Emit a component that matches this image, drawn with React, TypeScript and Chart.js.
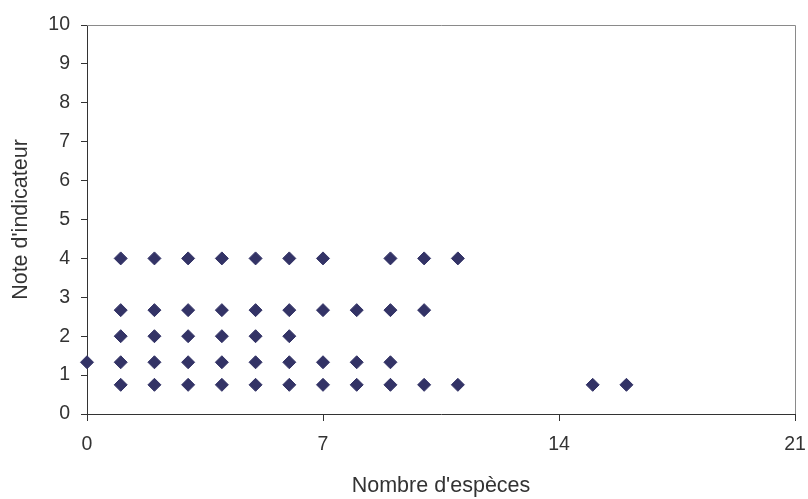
import React, { useEffect, useRef } from "react";
import { Chart, registerables } from "chart.js";

Chart.register(...registerables);

// Nombre d'espèces (x) et note d'indicateur (y)
const speciesCounts: number[] = [
  0,
  1, 1, 1, 1, 1,
  2, 2, 2, 2, 2,
  3, 3, 3, 3, 3,
  4, 4, 4, 4, 4,
  5, 5, 5, 5, 5,
  6, 6, 6, 6, 6,
  7, 7, 7, 7,
  8, 8, 8,
  9, 9, 9, 9,
  10, 10, 10,
  11, 11,
  15,
  16,
];
const indicatorScores: number[] = [
  1.33,
  4, 2.67, 2, 1.33, 0.75,
  4, 2.67, 2, 1.33, 0.75,
  4, 2.67, 2, 1.33, 0.75,
  4, 2.67, 2, 1.33, 0.75,
  4, 2.67, 2, 1.33, 0.75,
  4, 2.67, 2, 1.33, 0.75,
  4, 2.67, 1.33, 0.75,
  2.67, 1.33, 0.75,
  4, 2.67, 1.33, 0.75,
  4, 2.67, 0.75,
  4, 0.75,
  0.75,
  0.75,
];
const xTicks: number[] = [0, 7, 14, 21];
const yTicks: number[] = [0, 1, 2, 3, 4, 5, 6, 7, 8, 9, 10];
const xTitle = "Nombre d'espèces";
const yTitle = "Note d'indicateur";

const FONT = "'Liberation Sans', Arial, Helvetica, sans-serif";
const TEXT = "#333333";
const AXIS = "#333333";
const MARK = "#333366";

const boxPlugin = {
  id: "plotBox",
  afterDraw(chart: any) {
    const { ctx, chartArea } = chart;
    ctx.save();
    ctx.strokeStyle = "#8a8a8a";
    ctx.lineWidth = 1;
    ctx.beginPath();
    ctx.moveTo(chartArea.left, Math.round(chartArea.top) + 0.5);
    ctx.lineTo(Math.round(chartArea.right) + 0.5, Math.round(chartArea.top) + 0.5);
    ctx.lineTo(Math.round(chartArea.right) + 0.5, chartArea.bottom);
    ctx.stroke();
    ctx.restore();
  },
};

export default function App() {
  const ref = useRef<HTMLCanvasElement | null>(null);

  useEffect(() => {
    document.body.style.margin = "0";
    if (!ref.current) return;
    const points = speciesCounts.map((x, i) => ({ x, y: indicatorScores[i] }));
    const chart = new Chart(ref.current, {
      type: "scatter",
      data: {
        datasets: [
          {
            data: points,
            pointStyle: "rectRot",
            pointRadius: 6.5,
            pointHoverRadius: 6.5,
            pointBackgroundColor: MARK,
            pointBorderColor: MARK,
            pointBorderWidth: 1,
            clip: false,
          } as any,
        ],
      },
      options: {
        animation: false,
        responsive: false,
        maintainAspectRatio: false,
        events: [],
        layout: { padding: { left: 0, right: 13, top: 25, bottom: 0 } },
        plugins: {
          legend: { display: false },
          tooltip: { enabled: false },
          title: { display: false },
        },
        scales: {
          x: {
            type: "linear",
            min: 0,
            max: 21,
            afterBuildTicks: (scale: any) => {
              scale.ticks = xTicks.map((v) => ({ value: v }));
            },
            afterFit: (scale: any) => {
              scale.height = 85;
              scale.paddingRight = 0;
              scale.paddingLeft = 0;
            },
            ticks: {
              color: TEXT,
              font: { family: FONT, size: 19.5 },
              padding: 12,
              maxRotation: 0,
            },
            grid: {
              drawOnChartArea: false,
              drawTicks: true,
              tickLength: 7,
              tickColor: AXIS,
              tickWidth: 1,
            },
            border: { display: true, color: AXIS, width: 1 },
            title: {
              display: true,
              text: xTitle,
              color: TEXT,
              font: { family: FONT, size: 21.5 },
              padding: { top: 0, bottom: 0 },
            },
          },
          y: {
            type: "linear",
            min: 0,
            max: 10,
            afterBuildTicks: (scale: any) => {
              scale.ticks = yTicks.map((v) => ({ value: v }));
            },
            afterFit: (scale: any) => {
              scale.width = 87;
              scale.paddingTop = 0;
              scale.paddingBottom = 0;
            },
            ticks: {
              color: TEXT,
              font: { family: FONT, size: 19.5 },
              padding: 11,
            },
            grid: {
              drawOnChartArea: false,
              drawTicks: true,
              tickLength: 6,
              tickColor: AXIS,
              tickWidth: 1,
            },
            border: { display: true, color: AXIS, width: 1 },
            title: {
              display: true,
              text: yTitle,
              color: TEXT,
              font: { family: FONT, size: 21.5 },
              padding: { top: 8, bottom: 0 },
            },
          },
        },
      },
      plugins: [boxPlugin],
    });
    return () => chart.destroy();
  }, []);

  return (
    <div style={{ width: 808, height: 499, background: "#ffffff" }}>
      <canvas ref={ref} width={808} height={499} style={{ display: "block" }} />
    </div>
  );
}
